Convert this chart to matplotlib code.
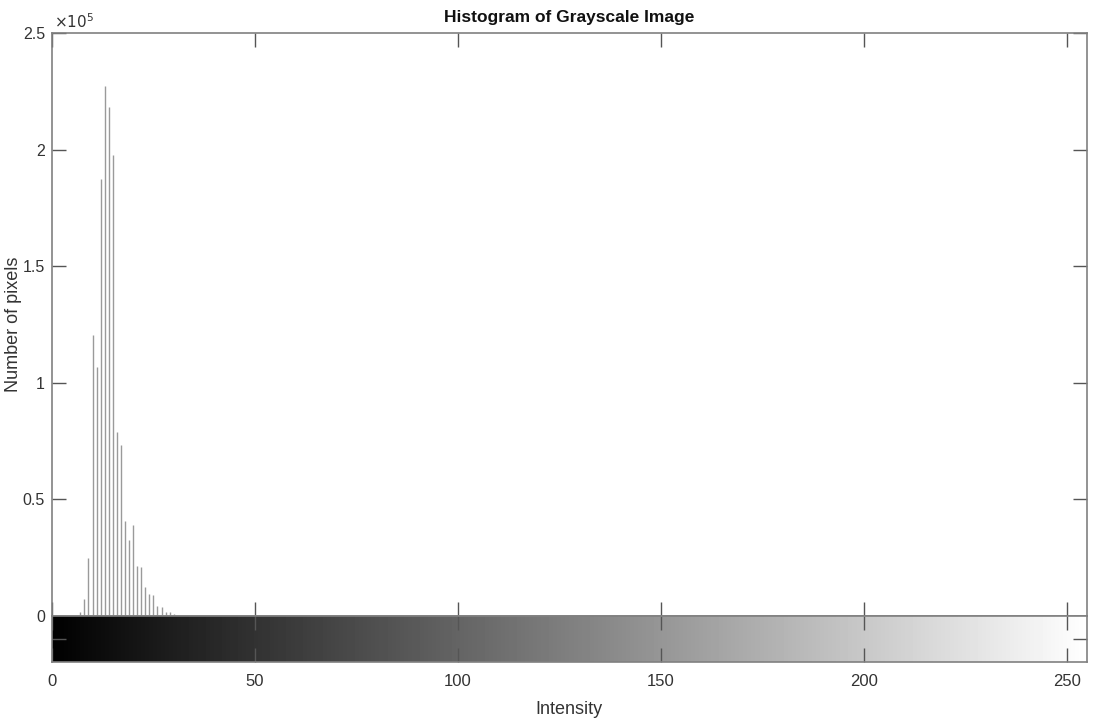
import numpy as np
import matplotlib.pyplot as plt

# histogram counts (all other bins are zero)
intensity_levels = [7, 8, 9, 10, 11, 12, 13, 14, 15, 16, 17, 18, 19, 20,
                    21, 22, 23, 24, 25, 26, 27, 28, 29, 30, 31]
pixel_counts = [1900, 7200, 24800, 120300, 106700, 187300, 227100, 218100,
                197700, 78700, 73200, 40900, 32600, 38900, 21500, 20900,
                12600, 9400, 9100, 4400, 3900, 1850, 1600, 1000, 400]
x_ticks = [0, 50, 100, 150, 200, 250]
y_ticks = [0, 0.5e5, 1e5, 1.5e5, 2e5, 2.5e5]
y_tick_labels = ['0', '0.5', '1', '1.5', '2', '2.5']

plt.rcParams['font.family'] = ['Liberation Sans', 'DejaVu Sans']
edge = '#808080'
txt = '#333333'

fig = plt.figure(figsize=(10.94, 7.19), dpi=100)
ax = fig.add_axes([0.0475, 0.1433, 0.946, 0.8108])
cax = fig.add_axes([0.0475, 0.0793, 0.946, 0.064])

ax.vlines(intensity_levels, 0, pixel_counts, color='#9a9a9a', lw=1.0)
ax.set_xlim(0, 255)
ax.set_ylim(0, 2.5e5)
ax.set_xticks(x_ticks)
ax.set_yticks(y_ticks)
ax.set_yticklabels(y_tick_labels)
ax.tick_params(direction='in', length=10, width=1, color='#555555',
               top=True, right=True, labelbottom=False,
               labelsize=11.5, labelcolor=txt, pad=5)
for s in ax.spines.values():
    s.set_color(edge)
    s.set_linewidth(1.2)
ax.text(0.002, 1.004, r'$\times10^5$', transform=ax.transAxes, fontsize=11,
        color=txt, ha='left', va='bottom')
ax.set_title('Histogram of Grayscale Image', fontsize=12.5, fontweight='bold',
             color='#111111', pad=8)
ax.set_ylabel('Number of pixels', fontsize=13, color=txt)
ax.yaxis.set_label_coords(-0.029, 0.5)

gradient = np.linspace(0, 1, 256).reshape(1, -1)
cax.imshow(gradient, cmap='gray', aspect='auto', extent=[0, 255, 0, 1],
           vmin=0, vmax=1)
cax.set_xlim(0, 255)
cax.set_ylim(0, 1)
cax.set_xticks(x_ticks)
cax.set_yticks([0.5])
cax.set_yticklabels([''])
cax.tick_params(direction='in', length=10, width=1, color='#555555',
                top=True, right=True, labelsize=12, labelcolor=txt, pad=9)
for s in cax.spines.values():
    s.set_color(edge)
    s.set_linewidth(1.2)
cax.set_xlabel('Intensity', fontsize=13, color=txt, labelpad=8)

fig.savefig('out.png', dpi=100)
